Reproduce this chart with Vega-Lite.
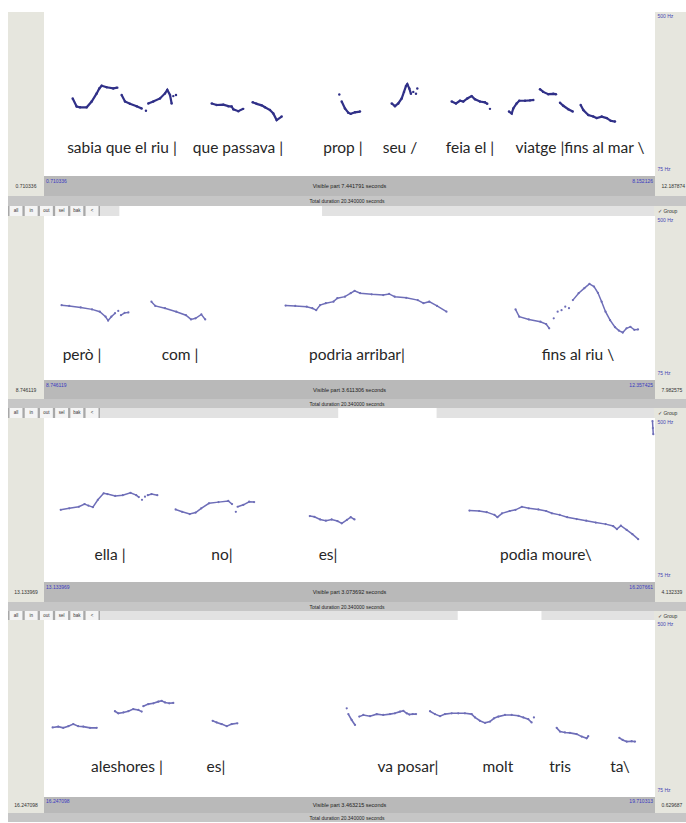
{
"$schema":"https://vega.github.io/schema/vega-lite/v6.json",
"background":"white",
"padding":{"left":8,"top":12,"right":0,"bottom":0},
"config":{"view":{"stroke":null},"concat":{"spacing":0},"text":{"font":"Liberation Sans"}},
"datasets":{
"p1":[
{"t":1.060,"hz":276,"seg":"a1"},{"t":1.108,"hz":255,"seg":"a1"},{"t":1.149,"hz":253,"seg":"a1"},{"t":1.230,"hz":253,"seg":"a1"},{"t":1.291,"hz":268,"seg":"a1"},{"t":1.352,"hz":289,"seg":"a1"},{"t":1.384,"hz":302,"seg":"a1"},{"t":1.413,"hz":309,"seg":"a1"},{"t":1.474,"hz":305,"seg":"a1"},{"t":1.554,"hz":302,"seg":"a1"},{"t":1.603,"hz":304,"seg":"a1"},
{"t":1.656,"hz":285,"seg":"a2"},{"t":1.697,"hz":268,"seg":"a2"},{"t":1.757,"hz":262,"seg":"a2"},{"t":1.839,"hz":256,"seg":"a2"},{"t":1.900,"hz":250,"seg":"a2"},
{"t":1.952,"hz":244,"seg":"a2s"},
{"t":1.980,"hz":263,"seg":"a3"},{"t":2.041,"hz":268,"seg":"a3"},{"t":2.123,"hz":276,"seg":"a3"},{"t":2.184,"hz":289,"seg":"a3"},{"t":2.212,"hz":298,"seg":"a3"},{"t":2.245,"hz":285,"seg":"a3"},{"t":2.265,"hz":263,"seg":"a3"},
{"t":2.285,"hz":282,"seg":"a4s"},{"t":2.318,"hz":285,"seg":"a5s"},
{"t":2.753,"hz":263,"seg":"b1"},{"t":2.813,"hz":259,"seg":"b1"},{"t":2.894,"hz":260,"seg":"b1"},{"t":2.955,"hz":256,"seg":"b1"},{"t":2.996,"hz":255,"seg":"b1"},{"t":3.016,"hz":248,"seg":"b1"},{"t":3.077,"hz":243,"seg":"b1"},{"t":3.137,"hz":249,"seg":"b1"},
{"t":3.252,"hz":266,"seg":"b2"},{"t":3.301,"hz":262,"seg":"b2"},{"t":3.362,"hz":258,"seg":"b2"},{"t":3.402,"hz":253,"seg":"b2"},{"t":3.463,"hz":246,"seg":"b2"},{"t":3.503,"hz":237,"seg":"b2"},{"t":3.544,"hz":220,"seg":"b2"},{"t":3.605,"hz":229,"seg":"b2"},
{"t":4.307,"hz":286,"seg":"cs"},
{"t":4.336,"hz":268,"seg":"c"},{"t":4.376,"hz":250,"seg":"c"},{"t":4.416,"hz":239,"seg":"c"},{"t":4.446,"hz":236,"seg":"c"},{"t":4.498,"hz":240,"seg":"c"},{"t":4.559,"hz":242,"seg":"c"},
{"t":4.945,"hz":263,"seg":"d"},{"t":4.985,"hz":256,"seg":"d"},{"t":5.025,"hz":263,"seg":"d"},{"t":5.067,"hz":276,"seg":"d"},{"t":5.095,"hz":293,"seg":"d"},{"t":5.119,"hz":308,"seg":"d"},{"t":5.135,"hz":313,"seg":"d"},{"t":5.159,"hz":302,"seg":"d"},{"t":5.180,"hz":288,"seg":"d"},
{"t":5.208,"hz":293,"seg":"ds1"},{"t":5.241,"hz":288,"seg":"ds2"},{"t":5.257,"hz":302,"seg":"ds3"},
{"t":5.676,"hz":268,"seg":"e"},{"t":5.728,"hz":263,"seg":"e"},{"t":5.777,"hz":270,"seg":"e"},{"t":5.817,"hz":268,"seg":"e"},{"t":5.866,"hz":276,"seg":"e"},{"t":5.919,"hz":282,"seg":"e"},{"t":5.960,"hz":274,"seg":"e"},{"t":6.020,"hz":268,"seg":"e"},{"t":6.081,"hz":266,"seg":"e"},{"t":6.109,"hz":262,"seg":"e"},
{"t":6.142,"hz":249,"seg":"es"},
{"t":6.374,"hz":242,"seg":"f1"},{"t":6.407,"hz":237,"seg":"f1"},{"t":6.426,"hz":250,"seg":"f1"},{"t":6.467,"hz":263,"seg":"f1"},{"t":6.499,"hz":270,"seg":"f1"},{"t":6.569,"hz":270,"seg":"f1"},{"t":6.629,"hz":271,"seg":"f1"},{"t":6.670,"hz":272,"seg":"f1"},
{"t":6.751,"hz":300,"seg":"f2"},{"t":6.791,"hz":293,"seg":"f2"},{"t":6.852,"hz":287,"seg":"f2"},{"t":6.913,"hz":288,"seg":"f2"},{"t":6.946,"hz":287,"seg":"f2"},
{"t":6.995,"hz":265,"seg":"f3"},{"t":7.035,"hz":257,"seg":"f3"},{"t":7.096,"hz":248,"seg":"f3"},{"t":7.150,"hz":242,"seg":"f3"},
{"t":7.247,"hz":259,"seg":"f4"},{"t":7.279,"hz":246,"seg":"f4"},{"t":7.340,"hz":233,"seg":"f4"},{"t":7.400,"hz":229,"seg":"f4"},{"t":7.442,"hz":225,"seg":"f4"},{"t":7.503,"hz":229,"seg":"f4"},{"t":7.564,"hz":225,"seg":"f4"},{"t":7.613,"hz":218,"seg":"f4"},{"t":7.665,"hz":216,"seg":"f4"}
],
"l1":[
{"t":1.660,"hz":148,"label":"sabia que el riu |"},{"t":3.073,"hz":148,"label":"que passava |"},{"t":4.352,"hz":148,"label":"prop |"},{"t":5.046,"hz":148,"label":"seu /"},{"t":5.899,"hz":148,"label":"feia el |"},{"t":7.239,"hz":148,"label":"viatge |fins al mar \\"}
],
"p2":[
{"t":8.850,"hz":269,"seg":"a"},{"t":8.895,"hz":267,"seg":"a"},{"t":8.963,"hz":263,"seg":"a"},{"t":9.030,"hz":258,"seg":"a"},{"t":9.076,"hz":252,"seg":"a"},{"t":9.110,"hz":239,"seg":"a"},{"t":9.125,"hz":229,"seg":"a"},{"t":9.144,"hz":239,"seg":"a"},{"t":9.166,"hz":248,"seg":"a"},
{"t":9.185,"hz":254,"seg":"as"},
{"t":9.201,"hz":243,"seg":"a2"},{"t":9.223,"hz":249,"seg":"a2"},{"t":9.245,"hz":250,"seg":"a2"},
{"t":9.381,"hz":278,"seg":"b"},{"t":9.404,"hz":267,"seg":"b"},{"t":9.461,"hz":261,"seg":"b"},{"t":9.528,"hz":252,"seg":"b"},{"t":9.585,"hz":243,"seg":"b"},{"t":9.615,"hz":232,"seg":"b"},{"t":9.642,"hz":235,"seg":"b"},{"t":9.676,"hz":245,"seg":"b"},{"t":9.699,"hz":232,"seg":"b"},
{"t":10.174,"hz":268,"seg":"c"},{"t":10.231,"hz":267,"seg":"c"},{"t":10.299,"hz":265,"seg":"c"},{"t":10.332,"hz":261,"seg":"c"},{"t":10.355,"hz":256,"seg":"c"},{"t":10.378,"hz":269,"seg":"c"},{"t":10.412,"hz":274,"seg":"c"},{"t":10.457,"hz":278,"seg":"c"},{"t":10.480,"hz":287,"seg":"c"},{"t":10.525,"hz":291,"seg":"c"},{"t":10.559,"hz":300,"seg":"c"},{"t":10.582,"hz":306,"seg":"c"},{"t":10.615,"hz":300,"seg":"c"},{"t":10.683,"hz":297,"seg":"c"},{"t":10.751,"hz":295,"seg":"c"},{"t":10.786,"hz":298,"seg":"c"},{"t":10.819,"hz":291,"seg":"c"},{"t":10.887,"hz":288,"seg":"c"},{"t":10.955,"hz":282,"seg":"c"},{"t":10.989,"hz":274,"seg":"c"},{"t":11.023,"hz":278,"seg":"c"},{"t":11.069,"hz":267,"seg":"c"},{"t":11.125,"hz":252,"seg":"c"},
{"t":11.533,"hz":258,"seg":"d"},{"t":11.555,"hz":239,"seg":"d"},{"t":11.612,"hz":232,"seg":"d"},{"t":11.680,"hz":226,"seg":"d"},{"t":11.714,"hz":220,"seg":"d"},{"t":11.732,"hz":209,"seg":"d"},
{"t":11.759,"hz":235,"seg":"s1"},{"t":11.782,"hz":252,"seg":"s2"},{"t":11.805,"hz":256,"seg":"s3"},{"t":11.827,"hz":265,"seg":"s4"},{"t":11.849,"hz":261,"seg":"s5"},
{"t":11.872,"hz":282,"seg":"e"},{"t":11.906,"hz":300,"seg":"e"},{"t":11.940,"hz":313,"seg":"e"},{"t":11.970,"hz":324,"seg":"e"},{"t":11.997,"hz":317,"seg":"e"},{"t":12.020,"hz":301,"seg":"e"},{"t":12.042,"hz":278,"seg":"e"},{"t":12.065,"hz":252,"seg":"e"},{"t":12.092,"hz":230,"seg":"e"},{"t":12.121,"hz":212,"seg":"e"},{"t":12.144,"hz":203,"seg":"e"},{"t":12.167,"hz":198,"seg":"e"},{"t":12.189,"hz":209,"seg":"e"},{"t":12.212,"hz":213,"seg":"e"},{"t":12.235,"hz":205,"seg":"e"},{"t":12.257,"hz":206,"seg":"e"}
],
"l2":[
{"t":8.971,"hz":140,"label":"però |"},{"t":9.550,"hz":140,"label":"com |"},{"t":10.596,"hz":140,"label":"podria arribar|"},{"t":11.902,"hz":140,"label":"fins al riu \\"}
],
"p3":[
{"t":13.218,"hz":262,"seg":"a"},{"t":13.261,"hz":266,"seg":"a"},{"t":13.309,"hz":270,"seg":"a"},{"t":13.338,"hz":277,"seg":"a"},{"t":13.357,"hz":273,"seg":"a"},{"t":13.380,"hz":269,"seg":"a"},{"t":13.405,"hz":288,"seg":"a"},{"t":13.434,"hz":305,"seg":"a"},{"t":13.453,"hz":303,"seg":"a"},{"t":13.492,"hz":298,"seg":"a"},{"t":13.530,"hz":300,"seg":"a"},{"t":13.569,"hz":306,"seg":"a"},{"t":13.598,"hz":300,"seg":"a"},{"t":13.611,"hz":295,"seg":"a"},
{"t":13.627,"hz":288,"seg":"as1"},{"t":13.642,"hz":296,"seg":"as2"},
{"t":13.656,"hz":300,"seg":"a2"},{"t":13.675,"hz":303,"seg":"a2"},{"t":13.704,"hz":300,"seg":"a2"},
{"t":13.796,"hz":263,"seg":"b"},{"t":13.829,"hz":257,"seg":"b"},{"t":13.867,"hz":251,"seg":"b"},{"t":13.897,"hz":255,"seg":"b"},{"t":13.925,"hz":266,"seg":"b"},{"t":13.964,"hz":279,"seg":"b"},{"t":14.012,"hz":282,"seg":"b"},{"t":14.061,"hz":285,"seg":"b"},{"t":14.080,"hz":277,"seg":"b"},
{"t":14.099,"hz":257,"seg":"bs"},
{"t":14.108,"hz":270,"seg":"b2"},{"t":14.137,"hz":275,"seg":"b2"},{"t":14.166,"hz":283,"seg":"b2"},{"t":14.191,"hz":282,"seg":"b2"},
{"t":14.471,"hz":246,"seg":"c"},{"t":14.494,"hz":244,"seg":"c"},{"t":14.523,"hz":237,"seg":"c"},{"t":14.552,"hz":234,"seg":"c"},{"t":14.581,"hz":237,"seg":"c"},{"t":14.610,"hz":233,"seg":"c"},{"t":14.632,"hz":227,"seg":"c"},{"t":14.658,"hz":236,"seg":"c"},{"t":14.677,"hz":243,"seg":"c"},{"t":14.696,"hz":237,"seg":"c"},
{"t":15.274,"hz":260,"seg":"d"},{"t":15.323,"hz":259,"seg":"d"},{"t":15.361,"hz":256,"seg":"d"},{"t":15.400,"hz":249,"seg":"d"},{"t":15.415,"hz":243,"seg":"d"},{"t":15.438,"hz":253,"seg":"d"},{"t":15.477,"hz":259,"seg":"d"},{"t":15.506,"hz":262,"seg":"d"},{"t":15.538,"hz":270,"seg":"d"},{"t":15.573,"hz":266,"seg":"d"},{"t":15.621,"hz":263,"seg":"d"},{"t":15.660,"hz":259,"seg":"d"},{"t":15.689,"hz":253,"seg":"d"},{"t":15.728,"hz":249,"seg":"d"},{"t":15.766,"hz":243,"seg":"d"},{"t":15.814,"hz":238,"seg":"d"},{"t":15.862,"hz":234,"seg":"d"},{"t":15.910,"hz":229,"seg":"d"},{"t":15.959,"hz":225,"seg":"d"},{"t":15.997,"hz":220,"seg":"d"},{"t":16.016,"hz":212,"seg":"d"},{"t":16.036,"hz":221,"seg":"d"},{"t":16.065,"hz":210,"seg":"d"},{"t":16.094,"hz":199,"seg":"d"},{"t":16.123,"hz":186,"seg":"d"},
{"t":16.195,"hz":492,"seg":"e"},{"t":16.197,"hz":474,"seg":"e"},{"t":16.199,"hz":458,"seg":"e"}
],
"l3":[
{"t":13.466,"hz":145,"label":"ella |"},{"t":14.029,"hz":145,"label":"no|"},{"t":14.563,"hz":145,"label":"es|"},{"t":15.659,"hz":145,"label":"podia moure\\"}
],
"p4":[
{"t":16.296,"hz":242,"seg":"a1"},{"t":16.328,"hz":244,"seg":"a1"},{"t":16.356,"hz":241,"seg":"a1"},{"t":16.385,"hz":245,"seg":"a1"},{"t":16.413,"hz":250,"seg":"a1"},{"t":16.441,"hz":245,"seg":"a1"},{"t":16.470,"hz":244,"seg":"a1"},{"t":16.508,"hz":241,"seg":"a1"},{"t":16.546,"hz":241,"seg":"a1"},
{"t":16.649,"hz":281,"seg":"a2"},{"t":16.668,"hz":276,"seg":"a2"},{"t":16.697,"hz":278,"seg":"a2"},{"t":16.725,"hz":281,"seg":"a2"},{"t":16.753,"hz":286,"seg":"a2"},{"t":16.782,"hz":284,"seg":"a2"},{"t":16.801,"hz":280,"seg":"a2"},
{"t":16.810,"hz":293,"seg":"a3"},{"t":16.838,"hz":298,"seg":"a3"},{"t":16.867,"hz":300,"seg":"a3"},{"t":16.895,"hz":304,"seg":"a3"},{"t":16.914,"hz":306,"seg":"a3"},{"t":16.933,"hz":302,"seg":"a3"},{"t":16.957,"hz":300,"seg":"a3"},{"t":16.980,"hz":301,"seg":"a3"},
{"t":17.203,"hz":258,"seg":"b"},{"t":17.226,"hz":254,"seg":"b"},{"t":17.254,"hz":250,"seg":"b"},{"t":17.283,"hz":245,"seg":"b"},{"t":17.311,"hz":250,"seg":"b"},{"t":17.343,"hz":252,"seg":"b"},
{"t":17.963,"hz":288,"seg":"cs"},
{"t":17.972,"hz":274,"seg":"c1"},{"t":17.991,"hz":260,"seg":"c1"},{"t":18.010,"hz":248,"seg":"c1"},
{"t":18.034,"hz":268,"seg":"c2"},{"t":18.057,"hz":272,"seg":"c2"},{"t":18.095,"hz":269,"seg":"c2"},{"t":18.133,"hz":274,"seg":"c2"},{"t":18.170,"hz":272,"seg":"c2"},{"t":18.208,"hz":274,"seg":"c2"},{"t":18.236,"hz":276,"seg":"c2"},{"t":18.265,"hz":280,"seg":"c2"},{"t":18.284,"hz":282,"seg":"c2"},{"t":18.303,"hz":276,"seg":"c2"},{"t":18.318,"hz":273,"seg":"c2"},{"t":18.337,"hz":274,"seg":"c2"},{"t":18.356,"hz":274,"seg":"c2"},
{"t":18.435,"hz":281,"seg":"d"},{"t":18.463,"hz":274,"seg":"d"},{"t":18.492,"hz":269,"seg":"d"},{"t":18.520,"hz":274,"seg":"d"},{"t":18.558,"hz":276,"seg":"d"},{"t":18.595,"hz":276,"seg":"d"},{"t":18.633,"hz":276,"seg":"d"},{"t":18.671,"hz":274,"seg":"d"},{"t":18.690,"hz":266,"seg":"d"},{"t":18.718,"hz":258,"seg":"d"},{"t":18.747,"hz":253,"seg":"d"},{"t":18.775,"hz":256,"seg":"d"},{"t":18.798,"hz":264,"seg":"d"},{"t":18.822,"hz":268,"seg":"d"},{"t":18.860,"hz":272,"seg":"d"},{"t":18.898,"hz":272,"seg":"d"},{"t":18.936,"hz":270,"seg":"d"},{"t":18.964,"hz":266,"seg":"d"},{"t":18.992,"hz":262,"seg":"d"},{"t":19.011,"hz":254,"seg":"d"},
{"t":19.024,"hz":266,"seg":"ds"},
{"t":19.153,"hz":241,"seg":"e"},{"t":19.172,"hz":232,"seg":"e"},{"t":19.200,"hz":230,"seg":"e"},{"t":19.228,"hz":229,"seg":"e"},{"t":19.266,"hz":226,"seg":"e"},{"t":19.295,"hz":220,"seg":"e"},{"t":19.323,"hz":216,"seg":"e"},{"t":19.332,"hz":221,"seg":"e"},
{"t":19.508,"hz":217,"seg":"f"},{"t":19.527,"hz":212,"seg":"f"},{"t":19.550,"hz":208,"seg":"f"},{"t":19.578,"hz":209,"seg":"f"},{"t":19.597,"hz":208,"seg":"f"}
],
"l4":[
{"t":16.717,"hz":147,"label":"aleshores |"},{"t":17.222,"hz":147,"label":"es|"},{"t":18.310,"hz":147,"label":"va posar|"},{"t":18.820,"hz":147,"label":"molt"},{"t":19.172,"hz":147,"label":"tris"},{"t":19.512,"hz":147,"label":"ta\\"}
],
"btn":[{"b":"all"},{"b":"in"},{"b":"out"},{"b":"sel"},{"b":"bak"},{"b":"<"}],
"hz":[{"hz":500,"label":"500 Hz"},{"hz":75,"label":"75 Hz"}]
},
"spacing":0,
"bounds":"full",
"vconcat":[
 {"spacing":0,"bounds":"flush","hconcat":[
  {"width":36,"height":164,"view":{"fill":"#E6E6DE","stroke":null},"data":{"values":[{}]},"mark":{"type":"text","text":""}},
  {"width":611,"height":164,"view":{"fill":"white","stroke":null},
   "encoding":{"x":{"field":"t","type":"quantitative","scale":{"domain":[0.710336,8.152126],"nice":false,"zero":false},"axis":null},"y":{"field":"hz","type":"quantitative","scale":{"domain":[75,500],"nice":false,"zero":false},"axis":null}},
   "layer":[
    {"data":{"name":"p1"},"mark":{"type":"line","color":"#303088","strokeWidth":2.2},"encoding":{"detail":{"field":"seg"}}},
    {"data":{"name":"p1"},"mark":{"type":"circle","color":"#303088","size":6,"opacity":1}},
    {"data":{"name":"l1"},"mark":{"type":"text","font":"Lato","fontSize":15.5,"color":"#262626"},"encoding":{"text":{"field":"label"}}}
   ]},
  {"width":31,"height":164,"view":{"fill":"#E6E6DE","stroke":null},"data":{"name":"hz"},
   "encoding":{"y":{"field":"hz","type":"quantitative","scale":{"domain":[75,500]},"axis":null},"text":{"field":"label"}},
   "layer":[
    {"transform":[{"filter":"datum.hz == 500"}],"mark":{"type":"text","align":"left","baseline":"top","dx":-13,"dy":2,"fontSize":5,"color":"#4646B4"}},
    {"transform":[{"filter":"datum.hz == 75"}],"mark":{"type":"text","align":"left","baseline":"bottom","dx":-13,"dy":-4,"fontSize":5,"color":"#4646B4"}}
   ]}
 ]},
 {"spacing":0,"bounds":"flush","hconcat":[
  {"width":36,"height":20,"view":{"fill":"#E6E6DE","stroke":null},"data":{"values":[{"label":"0.710336"}]},"mark":{"type":"text","fontSize":5,"color":"#333333"},"encoding":{"text":{"field":"label"}}},
  {"width":611,"height":20,"view":{"fill":"#B9B9B9","stroke":null},
   "data":{"values":[{"t":0.710336,"label":"0.710336","side":"l"},{"t":8.152126,"label":"8.152126","side":"r"},{"label":"Visible part 7.441791 seconds","side":"c"}]},
   "layer":[
    {"transform":[{"filter":"datum.side == 'c'"}],"mark":{"type":"text","fontSize":5.5,"color":"#222222"},"encoding":{"text":{"field":"label"}}},
    {"transform":[{"filter":"datum.side == 'l'"}],"mark":{"type":"text","fontSize":5,"color":"#3A3AC0","align":"left","dx":2,"dy":-5},"encoding":{"x":{"field":"t","type":"quantitative","scale":{"domain":[0.710336,8.152126],"nice":false,"zero":false},"axis":null},"text":{"field":"label"}}},
    {"transform":[{"filter":"datum.side == 'r'"}],"mark":{"type":"text","fontSize":5,"color":"#3A3AC0","align":"right","dx":-2,"dy":-5},"encoding":{"x":{"field":"t","type":"quantitative","scale":{"domain":[0.710336,8.152126],"nice":false,"zero":false},"axis":null},"text":{"field":"label"}}}
   ]},
  {"width":31,"height":20,"view":{"fill":"#E6E6DE","stroke":null},"data":{"values":[{"label":"12.187874"}]},"mark":{"type":"text","fontSize":5,"align":"left","dx":-9,"color":"#333333"},"encoding":{"text":{"field":"label"}}}
 ]},
 {"width":678,"height":10,"view":{"fill":"#C6C6C6","stroke":null},"data":{"values":[{"label":"Total duration 20.340000 seconds"}]},"mark":{"type":"text","fontSize":5,"color":"#222222"},"encoding":{"text":{"field":"label"}}},
 {"spacing":0,"bounds":"flush","hconcat":[
  {"width":92,"height":10,"view":{"fill":"#A8A8A8","stroke":null},"data":{"name":"btn"},
   "encoding":{"x":{"field":"b","type":"nominal","sort":null,"scale":{"paddingInner":0.15,"paddingOuter":0.1},"axis":null}},
   "layer":[{"mark":{"type":"rect","fill":"#F4F4F4"}},{"mark":{"type":"text","fontSize":4.5,"color":"#333333"},"encoding":{"text":{"field":"b"}}}]},
  {"width":554,"height":10,"view":{"fill":"#E2E2E2","stroke":null},"data":{"values":[{"a":0.710336,"b":8.152126}]},"mark":{"type":"rect","fill":"#FFFFFF"},"encoding":{"x":{"field":"a","type":"quantitative","scale":{"domain":[0,20.34],"nice":false,"zero":false},"axis":null},"x2":{"field":"b"}}},
  {"width":32,"height":10,"view":{"fill":"#E6E6DE","stroke":null},"data":{"values":[{"label":"✓ Group"}]},"mark":{"type":"text","fontSize":5,"align":"left","dx":-12,"color":"#333333"},"encoding":{"text":{"field":"label"}}}
 ]},

 {"spacing":0,"bounds":"flush","hconcat":[
  {"width":36,"height":164,"view":{"fill":"#E6E6DE","stroke":null},"data":{"values":[{}]},"mark":{"type":"text","text":""}},
  {"width":611,"height":164,"view":{"fill":"white","stroke":null},
   "encoding":{"x":{"field":"t","type":"quantitative","scale":{"domain":[8.746119,12.357425],"nice":false,"zero":false},"axis":null},"y":{"field":"hz","type":"quantitative","scale":{"domain":[75,500],"nice":false,"zero":false},"axis":null}},
   "layer":[
    {"data":{"name":"p2"},"mark":{"type":"line","color":"#6E6EB8","strokeWidth":1.5},"encoding":{"detail":{"field":"seg"}}},
    {"data":{"name":"p2"},"mark":{"type":"circle","color":"#6E6EB8","size":5,"opacity":1}},
    {"data":{"name":"l2"},"mark":{"type":"text","font":"Lato","fontSize":15.5,"color":"#262626"},"encoding":{"text":{"field":"label"}}}
   ]},
  {"width":31,"height":164,"view":{"fill":"#E6E6DE","stroke":null},"data":{"name":"hz"},
   "encoding":{"y":{"field":"hz","type":"quantitative","scale":{"domain":[75,500]},"axis":null},"text":{"field":"label"}},
   "layer":[
    {"transform":[{"filter":"datum.hz == 500"}],"mark":{"type":"text","align":"left","baseline":"top","dx":-13,"dy":2,"fontSize":5,"color":"#4646B4"}},
    {"transform":[{"filter":"datum.hz == 75"}],"mark":{"type":"text","align":"left","baseline":"bottom","dx":-13,"dy":-4,"fontSize":5,"color":"#4646B4"}}
   ]}
 ]},
 {"spacing":0,"bounds":"flush","hconcat":[
  {"width":36,"height":19,"view":{"fill":"#E6E6DE","stroke":null},"data":{"values":[{"label":"8.746119"}]},"mark":{"type":"text","fontSize":5,"color":"#333333"},"encoding":{"text":{"field":"label"}}},
  {"width":611,"height":19,"view":{"fill":"#B9B9B9","stroke":null},
   "data":{"values":[{"t":8.746119,"label":"8.746119","side":"l"},{"t":12.357425,"label":"12.357425","side":"r"},{"label":"Visible part 3.611306 seconds","side":"c"}]},
   "layer":[
    {"transform":[{"filter":"datum.side == 'c'"}],"mark":{"type":"text","fontSize":5.5,"color":"#222222"},"encoding":{"text":{"field":"label"}}},
    {"transform":[{"filter":"datum.side == 'l'"}],"mark":{"type":"text","fontSize":5,"color":"#3A3AC0","align":"left","dx":2,"dy":-5},"encoding":{"x":{"field":"t","type":"quantitative","scale":{"domain":[8.746119,12.357425],"nice":false,"zero":false},"axis":null},"text":{"field":"label"}}},
    {"transform":[{"filter":"datum.side == 'r'"}],"mark":{"type":"text","fontSize":5,"color":"#3A3AC0","align":"right","dx":-2,"dy":-5},"encoding":{"x":{"field":"t","type":"quantitative","scale":{"domain":[8.746119,12.357425],"nice":false,"zero":false},"axis":null},"text":{"field":"label"}}}
   ]},
  {"width":31,"height":19,"view":{"fill":"#E6E6DE","stroke":null},"data":{"values":[{"label":"7.982575"}]},"mark":{"type":"text","fontSize":5,"align":"left","dx":-9,"color":"#333333"},"encoding":{"text":{"field":"label"}}}
 ]},
 {"width":678,"height":9,"view":{"fill":"#C6C6C6","stroke":null},"data":{"values":[{"label":"Total duration 20.340000 seconds"}]},"mark":{"type":"text","fontSize":5,"color":"#222222"},"encoding":{"text":{"field":"label"}}},
 {"spacing":0,"bounds":"flush","hconcat":[
  {"width":92,"height":10,"view":{"fill":"#A8A8A8","stroke":null},"data":{"name":"btn"},
   "encoding":{"x":{"field":"b","type":"nominal","sort":null,"scale":{"paddingInner":0.15,"paddingOuter":0.1},"axis":null}},
   "layer":[{"mark":{"type":"rect","fill":"#F4F4F4"}},{"mark":{"type":"text","fontSize":4.5,"color":"#333333"},"encoding":{"text":{"field":"b"}}}]},
  {"width":554,"height":10,"view":{"fill":"#E2E2E2","stroke":null},"data":{"values":[{"a":8.746119,"b":12.357425}]},"mark":{"type":"rect","fill":"#FFFFFF"},"encoding":{"x":{"field":"a","type":"quantitative","scale":{"domain":[0,20.34],"nice":false,"zero":false},"axis":null},"x2":{"field":"b"}}},
  {"width":32,"height":10,"view":{"fill":"#E6E6DE","stroke":null},"data":{"values":[{"label":"✓ Group"}]},"mark":{"type":"text","fontSize":5,"align":"left","dx":-12,"color":"#333333"},"encoding":{"text":{"field":"label"}}}
 ]},

 {"spacing":0,"bounds":"flush","hconcat":[
  {"width":36,"height":164,"view":{"fill":"#E6E6DE","stroke":null},"data":{"values":[{}]},"mark":{"type":"text","text":""}},
  {"width":611,"height":164,"view":{"fill":"white","stroke":null},
   "encoding":{"x":{"field":"t","type":"quantitative","scale":{"domain":[13.133969,16.207661],"nice":false,"zero":false},"axis":null},"y":{"field":"hz","type":"quantitative","scale":{"domain":[75,500],"nice":false,"zero":false},"axis":null}},
   "layer":[
    {"data":{"name":"p3"},"mark":{"type":"line","color":"#6E6EB8","strokeWidth":1.5},"encoding":{"detail":{"field":"seg"}}},
    {"data":{"name":"p3"},"mark":{"type":"circle","color":"#6E6EB8","size":5,"opacity":1}},
    {"data":{"name":"l3"},"mark":{"type":"text","font":"Lato","fontSize":15.5,"color":"#262626"},"encoding":{"text":{"field":"label"}}}
   ]},
  {"width":31,"height":164,"view":{"fill":"#E6E6DE","stroke":null},"data":{"name":"hz"},
   "encoding":{"y":{"field":"hz","type":"quantitative","scale":{"domain":[75,500]},"axis":null},"text":{"field":"label"}},
   "layer":[
    {"transform":[{"filter":"datum.hz == 500"}],"mark":{"type":"text","align":"left","baseline":"top","dx":-13,"dy":2,"fontSize":5,"color":"#4646B4"}},
    {"transform":[{"filter":"datum.hz == 75"}],"mark":{"type":"text","align":"left","baseline":"bottom","dx":-13,"dy":-4,"fontSize":5,"color":"#4646B4"}}
   ]}
 ]},
 {"spacing":0,"bounds":"flush","hconcat":[
  {"width":36,"height":20,"view":{"fill":"#E6E6DE","stroke":null},"data":{"values":[{"label":"13.133969"}]},"mark":{"type":"text","fontSize":5,"color":"#333333"},"encoding":{"text":{"field":"label"}}},
  {"width":611,"height":20,"view":{"fill":"#B9B9B9","stroke":null},
   "data":{"values":[{"t":13.133969,"label":"13.133969","side":"l"},{"t":16.207661,"label":"16.207661","side":"r"},{"label":"Visible part 3.073692 seconds","side":"c"}]},
   "layer":[
    {"transform":[{"filter":"datum.side == 'c'"}],"mark":{"type":"text","fontSize":5.5,"color":"#222222"},"encoding":{"text":{"field":"label"}}},
    {"transform":[{"filter":"datum.side == 'l'"}],"mark":{"type":"text","fontSize":5,"color":"#3A3AC0","align":"left","dx":2,"dy":-5},"encoding":{"x":{"field":"t","type":"quantitative","scale":{"domain":[13.133969,16.207661],"nice":false,"zero":false},"axis":null},"text":{"field":"label"}}},
    {"transform":[{"filter":"datum.side == 'r'"}],"mark":{"type":"text","fontSize":5,"color":"#3A3AC0","align":"right","dx":-2,"dy":-5},"encoding":{"x":{"field":"t","type":"quantitative","scale":{"domain":[13.133969,16.207661],"nice":false,"zero":false},"axis":null},"text":{"field":"label"}}}
   ]},
  {"width":31,"height":20,"view":{"fill":"#E6E6DE","stroke":null},"data":{"values":[{"label":"4.132339"}]},"mark":{"type":"text","fontSize":5,"align":"left","dx":-9,"color":"#333333"},"encoding":{"text":{"field":"label"}}}
 ]},
 {"width":678,"height":9,"view":{"fill":"#C6C6C6","stroke":null},"data":{"values":[{"label":"Total duration 20.340000 seconds"}]},"mark":{"type":"text","fontSize":5,"color":"#222222"},"encoding":{"text":{"field":"label"}}},
 {"spacing":0,"bounds":"flush","hconcat":[
  {"width":92,"height":9,"view":{"fill":"#A8A8A8","stroke":null},"data":{"name":"btn"},
   "encoding":{"x":{"field":"b","type":"nominal","sort":null,"scale":{"paddingInner":0.15,"paddingOuter":0.1},"axis":null}},
   "layer":[{"mark":{"type":"rect","fill":"#F4F4F4"}},{"mark":{"type":"text","fontSize":4.5,"color":"#333333"},"encoding":{"text":{"field":"b"}}}]},
  {"width":554,"height":9,"view":{"fill":"#E2E2E2","stroke":null},"data":{"values":[{"a":13.133969,"b":16.207661}]},"mark":{"type":"rect","fill":"#FFFFFF"},"encoding":{"x":{"field":"a","type":"quantitative","scale":{"domain":[0,20.34],"nice":false,"zero":false},"axis":null},"x2":{"field":"b"}}},
  {"width":32,"height":9,"view":{"fill":"#E6E6DE","stroke":null},"data":{"values":[{"label":"✓ Group"}]},"mark":{"type":"text","fontSize":5,"align":"left","dx":-12,"color":"#333333"},"encoding":{"text":{"field":"label"}}}
 ]},

 {"spacing":0,"bounds":"flush","hconcat":[
  {"width":36,"height":177,"view":{"fill":"#E6E6DE","stroke":null},"data":{"values":[{}]},"mark":{"type":"text","text":""}},
  {"width":611,"height":177,"view":{"fill":"white","stroke":null},
   "encoding":{"x":{"field":"t","type":"quantitative","scale":{"domain":[16.247098,19.710313],"nice":false,"zero":false},"axis":null},"y":{"field":"hz","type":"quantitative","scale":{"domain":[75,500],"nice":false,"zero":false},"axis":null}},
   "layer":[
    {"data":{"name":"p4"},"mark":{"type":"line","color":"#6E6EB8","strokeWidth":1.6},"encoding":{"detail":{"field":"seg"}}},
    {"data":{"name":"p4"},"mark":{"type":"circle","color":"#6E6EB8","size":5,"opacity":1}},
    {"data":{"name":"l4"},"mark":{"type":"text","font":"Lato","fontSize":15.5,"color":"#262626"},"encoding":{"text":{"field":"label"}}}
   ]},
  {"width":31,"height":177,"view":{"fill":"#E6E6DE","stroke":null},"data":{"name":"hz"},
   "encoding":{"y":{"field":"hz","type":"quantitative","scale":{"domain":[75,500]},"axis":null},"text":{"field":"label"}},
   "layer":[
    {"transform":[{"filter":"datum.hz == 500"}],"mark":{"type":"text","align":"left","baseline":"top","dx":-13,"dy":2,"fontSize":5,"color":"#4646B4"}},
    {"transform":[{"filter":"datum.hz == 75"}],"mark":{"type":"text","align":"left","baseline":"bottom","dx":-13,"dy":-4,"fontSize":5,"color":"#4646B4"}}
   ]}
 ]},
 {"spacing":0,"bounds":"flush","hconcat":[
  {"width":36,"height":16,"view":{"fill":"#E6E6DE","stroke":null},"data":{"values":[{"label":"16.247098"}]},"mark":{"type":"text","fontSize":5,"color":"#333333"},"encoding":{"text":{"field":"label"}}},
  {"width":611,"height":16,"view":{"fill":"#B9B9B9","stroke":null},
   "data":{"values":[{"t":16.247098,"label":"16.247098","side":"l"},{"t":19.710313,"label":"19.710313","side":"r"},{"label":"Visible part 3.463215 seconds","side":"c"}]},
   "layer":[
    {"transform":[{"filter":"datum.side == 'c'"}],"mark":{"type":"text","fontSize":5.5,"color":"#222222"},"encoding":{"text":{"field":"label"}}},
    {"transform":[{"filter":"datum.side == 'l'"}],"mark":{"type":"text","fontSize":5,"color":"#3A3AC0","align":"left","dx":2,"dy":-4},"encoding":{"x":{"field":"t","type":"quantitative","scale":{"domain":[16.247098,19.710313],"nice":false,"zero":false},"axis":null},"text":{"field":"label"}}},
    {"transform":[{"filter":"datum.side == 'r'"}],"mark":{"type":"text","fontSize":5,"color":"#3A3AC0","align":"right","dx":-2,"dy":-4},"encoding":{"x":{"field":"t","type":"quantitative","scale":{"domain":[16.247098,19.710313],"nice":false,"zero":false},"axis":null},"text":{"field":"label"}}}
   ]},
  {"width":31,"height":16,"view":{"fill":"#E6E6DE","stroke":null},"data":{"values":[{"label":"0.629687"}]},"mark":{"type":"text","fontSize":5,"align":"left","dx":-9,"color":"#333333"},"encoding":{"text":{"field":"label"}}}
 ]},
 {"width":678,"height":9,"view":{"fill":"#C6C6C6","stroke":null},"data":{"values":[{"label":"Total duration 20.340000 seconds"}]},"mark":{"type":"text","fontSize":5,"color":"#222222"},"encoding":{"text":{"field":"label"}}}
]
}
